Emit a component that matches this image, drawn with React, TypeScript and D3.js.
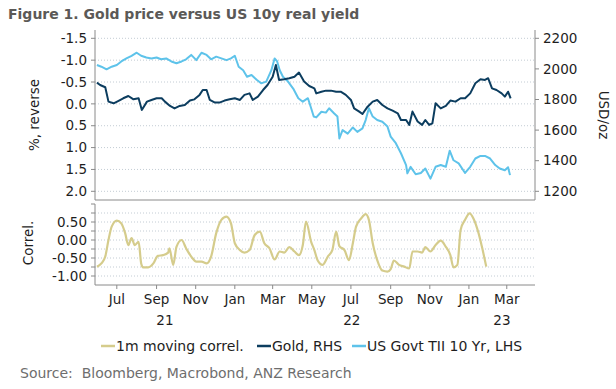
import React from "react";
import * as d3 from "d3";

// US 10y real yield (TII), % — plotted on a reversed left axis
const tiiSeries: [string, number][] = [
  ["2021-05-31", -0.89], ["2021-06-07", -0.85], ["2021-06-15", -0.79], ["2021-06-23", -0.85],
  ["2021-07-01", -0.89], ["2021-07-08", -0.97], ["2021-07-16", -1.04], ["2021-07-24", -1.1],
  ["2021-08-01", -1.17], ["2021-08-08", -1.1], ["2021-08-16", -1.06], ["2021-08-24", -1.04],
  ["2021-09-01", -1.06], ["2021-09-08", -1.02], ["2021-09-16", -1.04], ["2021-09-24", -0.97],
  ["2021-10-02", -0.93], ["2021-10-10", -0.97], ["2021-10-17", -1.02], ["2021-10-25", -1.12],
  ["2021-11-02", -1.0], ["2021-11-10", -1.17], ["2021-11-18", -1.12], ["2021-11-25", -1.02],
  ["2021-12-03", -1.08], ["2021-12-11", -1.04], ["2021-12-19", -1.0], ["2021-12-26", -1.04],
  ["2022-01-01", -1.1], ["2022-01-07", -0.85], ["2022-01-14", -0.77], ["2022-01-20", -0.62],
  ["2022-01-27", -0.66], ["2022-02-04", -0.55], ["2022-02-11", -0.47], ["2022-02-19", -0.51],
  ["2022-02-27", -0.77], ["2022-03-04", -1.04], ["2022-03-08", -0.97], ["2022-03-12", -0.77],
  ["2022-03-17", -0.62], ["2022-03-25", -0.51], ["2022-04-02", -0.35], ["2022-04-10", -0.13],
  ["2022-04-17", -0.05], ["2022-04-25", -0.13], ["2022-04-30", 0.1], ["2022-05-04", 0.29],
  ["2022-05-08", 0.31], ["2022-05-16", 0.18], ["2022-05-23", 0.2], ["2022-05-28", 0.1],
  ["2022-06-05", 0.22], ["2022-06-10", 0.29], ["2022-06-13", 0.79], ["2022-06-18", 0.6],
  ["2022-06-26", 0.68], ["2022-07-04", 0.54], ["2022-07-11", 0.64], ["2022-07-19", 0.56],
  ["2022-07-24", 0.37], ["2022-07-29", 0.1], ["2022-08-04", 0.29], ["2022-08-11", 0.37],
  ["2022-08-19", 0.41], ["2022-08-27", 0.52], ["2022-09-01", 0.75], ["2022-09-09", 0.9],
  ["2022-09-17", 1.13], ["2022-09-25", 1.4], ["2022-09-27", 1.59], ["2022-10-02", 1.44],
  ["2022-10-10", 1.61], ["2022-10-18", 1.58], ["2022-10-25", 1.48], ["2022-11-02", 1.71],
  ["2022-11-10", 1.44], ["2022-11-18", 1.4], ["2022-11-26", 1.44], ["2022-12-02", 1.07],
  ["2022-12-08", 1.29], ["2022-12-16", 1.36], ["2022-12-26", 1.58], ["2023-01-03", 1.44],
  ["2023-01-11", 1.25], ["2023-01-19", 1.19], ["2023-01-26", 1.19], ["2023-02-03", 1.25],
  ["2023-02-11", 1.4], ["2023-02-18", 1.48], ["2023-02-26", 1.52], ["2023-03-03", 1.45],
  ["2023-03-06", 1.63],
];

// Gold, USD/oz — right axis
const goldSeries: [string, number][] = [
  ["2021-05-31", 1910], ["2021-06-05", 1895], ["2021-06-13", 1880], ["2021-06-18", 1786],
  ["2021-06-26", 1775], ["2021-07-03", 1790], ["2021-07-11", 1808], ["2021-07-19", 1823],
  ["2021-07-27", 1801], ["2021-08-04", 1808], ["2021-08-09", 1732], ["2021-08-17", 1786],
  ["2021-08-24", 1797], ["2021-09-01", 1808], ["2021-09-09", 1808], ["2021-09-14", 1786],
  ["2021-09-22", 1758], ["2021-09-29", 1742], ["2021-10-07", 1758], ["2021-10-15", 1764],
  ["2021-10-23", 1793], ["2021-10-30", 1801], ["2021-11-07", 1830], ["2021-11-12", 1862],
  ["2021-11-18", 1862], ["2021-11-23", 1797], ["2021-12-01", 1780], ["2021-12-08", 1780],
  ["2021-12-16", 1793], ["2021-12-24", 1801], ["2022-01-01", 1808], ["2022-01-09", 1797],
  ["2022-01-16", 1830], ["2022-01-24", 1840], ["2022-01-29", 1797], ["2022-02-06", 1819],
  ["2022-02-14", 1862], ["2022-02-21", 1895], ["2022-03-01", 1949], ["2022-03-06", 2026],
  ["2022-03-11", 1928], ["2022-03-19", 1932], ["2022-03-27", 1939], ["2022-04-04", 1949],
  ["2022-04-11", 1976], ["2022-04-19", 1917], ["2022-04-27", 1888], ["2022-05-05", 1873],
  ["2022-05-08", 1840], ["2022-05-16", 1851], ["2022-05-23", 1858], ["2022-05-31", 1858],
  ["2022-06-08", 1851], ["2022-06-15", 1851], ["2022-06-23", 1830], ["2022-07-01", 1797],
  ["2022-07-06", 1742], ["2022-07-14", 1721], ["2022-07-19", 1705], ["2022-07-27", 1753],
  ["2022-08-04", 1786], ["2022-08-11", 1797], ["2022-08-19", 1764], ["2022-08-27", 1742],
  ["2022-09-04", 1727], ["2022-09-12", 1710], ["2022-09-17", 1666], ["2022-09-25", 1666],
  ["2022-09-30", 1634], ["2022-10-05", 1721], ["2022-10-13", 1656], ["2022-10-20", 1634],
  ["2022-10-25", 1666], ["2022-10-31", 1634], ["2022-11-05", 1644], ["2022-11-10", 1775],
  ["2022-11-18", 1742], ["2022-11-26", 1758], ["2022-12-03", 1793], ["2022-12-11", 1786],
  ["2022-12-19", 1808], ["2022-12-26", 1808], ["2023-01-03", 1840], ["2023-01-11", 1906],
  ["2023-01-19", 1932], ["2023-01-26", 1928], ["2023-01-31", 1939], ["2023-02-06", 1873],
  ["2023-02-13", 1862], ["2023-02-21", 1840], ["2023-02-26", 1819], ["2023-03-03", 1851],
  ["2023-03-07", 1808],
];

// 1m moving correlation — lower panel
const correlSeries: [string, number][] = [
  ["2021-05-31", -0.74], ["2021-06-07", -0.65], ["2021-06-13", -0.46], ["2021-06-18", 0.0],
  ["2021-06-23", 0.37], ["2021-07-01", 0.54], ["2021-07-08", 0.46], ["2021-07-14", 0.19],
  ["2021-07-19", -0.14], ["2021-07-24", 0.05], ["2021-07-29", -0.14], ["2021-08-04", -0.05],
  ["2021-08-08", -0.65], ["2021-08-11", -0.76], ["2021-08-19", -0.76], ["2021-08-27", -0.65],
  ["2021-09-03", -0.44], ["2021-09-11", -0.42], ["2021-09-19", -0.35], ["2021-09-21", -0.23],
  ["2021-09-27", -0.69], ["2021-10-02", -0.19], ["2021-10-10", 0.0], ["2021-10-17", -0.23],
  ["2021-10-25", -0.46], ["2021-11-02", -0.6], ["2021-11-10", -0.6], ["2021-11-18", -0.65],
  ["2021-11-25", -0.46], ["2021-12-03", 0.19], ["2021-12-11", 0.56], ["2021-12-19", 0.65],
  ["2021-12-26", 0.46], ["2022-01-01", -0.09], ["2022-01-09", -0.28], ["2022-01-16", -0.35],
  ["2022-01-24", -0.28], ["2022-02-01", 0.14], ["2022-02-09", 0.23], ["2022-02-16", -0.09],
  ["2022-02-24", -0.23], ["2022-03-04", -0.54], ["2022-03-12", -0.32], ["2022-03-19", -0.35],
  ["2022-03-27", -0.2], ["2022-04-04", -0.32], ["2022-04-11", -0.42], ["2022-04-17", -0.14],
  ["2022-04-22", 0.51], ["2022-04-30", -0.05], ["2022-05-05", -0.28], ["2022-05-10", -0.56],
  ["2022-05-18", -0.69], ["2022-05-26", -0.46], ["2022-06-02", -0.28], ["2022-06-08", 0.23],
  ["2022-06-13", -0.17], ["2022-06-21", -0.28], ["2022-06-28", -0.56], ["2022-07-04", -0.09],
  ["2022-07-09", 0.37], ["2022-07-17", 0.6], ["2022-07-24", 0.72], ["2022-07-29", 0.56],
  ["2022-08-04", -0.09], ["2022-08-11", -0.56], ["2022-08-19", -0.85], ["2022-08-27", -0.88],
  ["2022-09-01", -0.81], ["2022-09-06", -0.57], ["2022-09-14", -0.69], ["2022-09-22", -0.74],
  ["2022-09-30", -0.79], ["2022-10-05", -0.32], ["2022-10-13", -0.32], ["2022-10-20", -0.35],
  ["2022-10-25", -0.2], ["2022-11-02", -0.32], ["2022-11-10", -0.14], ["2022-11-18", -0.02],
  ["2022-11-26", -0.19], ["2022-12-03", -0.42], ["2022-12-08", -0.76], ["2022-12-14", -0.69],
  ["2022-12-19", 0.28], ["2022-12-26", 0.56], ["2023-01-02", 0.74], ["2023-01-08", 0.6],
  ["2023-01-16", 0.19], ["2023-01-21", -0.17], ["2023-01-28", -0.74],
];

const leftTicks = [-1.5, -1.0, -0.5, 0.0, 0.5, 1.0, 1.5, 2.0];
const rightTicks = [2200, 2000, 1800, 1600, 1400, 1200];
const correlTicks = [0.5, 0.0, -0.5, -1.0];
const correlGrid = [0.75, 0.5, 0.25, 0, -0.25, -0.5, -0.75, -1.0];
const yearLabels = ["21", "22", "23"];

const legendItems = [
  { label: "1m moving correl.", color: "#d5cc8c", x: 101 },
  { label: "Gold, RHS", color: "#0c3d5f", x: 257 },
  { label: "US Govt TII 10 Yr, LHS", color: "#5ec3ea", x: 352 },
];

const FONT = "'DejaVu Sans', Verdana, sans-serif";
const parse = d3.timeParse("%Y-%m-%d");

export default function App() {
  const W = 616, H = 389;
  const x0 = 95, x1 = 535;
  const topY0 = 30, topY1 = 200;
  const botY0 = 204, botY1 = 285;

  const x = d3.scaleTime()
    .domain([new Date(2021, 4, 28), new Date(2023, 3, 14)])
    .range([x0, x1]);

  const yLeft = d3.scaleLinear().domain([-1.5, 2.0]).range([38.3, 191.3]);
  const yRight = d3.scaleLinear().domain([2200, 1200]).range([38.3, 191.3]);
  const yCor = d3.scaleLinear().domain([1.0, -1.25]).range([botY0, botY1]);

  const lineTii = d3.line<[string, number]>()
    .x(d => x(parse(d[0])!))
    .y(d => yLeft(d[1]));
  const lineGold = d3.line<[string, number]>()
    .x(d => x(parse(d[0])!))
    .y(d => yRight(d[1]));
  const lineCor = d3.line<[string, number]>()
    .x(d => x(parse(d[0])!))
    .y(d => yCor(d[1]))
    .curve(d3.curveMonotoneX);

  const monthTicks = x.ticks(d3.timeMonth.every(2)!);
  const fmtMonth = d3.timeFormat("%b");

  // year label sits in the middle of the visible part of each year
  const [dStart, dEnd] = x.domain();
  const yearPos = yearLabels.map(lbl => {
    const yr = 2000 + (+lbl);
    const a = Math.max(+dStart, +new Date(yr, 0, 1));
    const b = Math.min(+dEnd, +new Date(yr + 1, 0, 1));
    return { lbl, x: (x(new Date(a)) + x(new Date(b))) / 2 };
  });

  const axisColor = "#8a8a8a";
  const gridColor = "#c3ccd4";

  return (
    <svg width={W} height={H} style={{ position: "absolute", left: 0, top: 0, background: "#fff" }}
      fontFamily={FONT}>
      <text x={8} y={19} fontSize={14} fontWeight="bold" fill="#5b5957">
        Figure 1. Gold price versus US 10y real yield
      </text>

      {/* top panel grid */}
      {leftTicks.map(t => (
        <line key={"g" + t} x1={x0} x2={x1} y1={yLeft(t)} y2={yLeft(t)}
          stroke={gridColor} strokeDasharray="1,2" />
      ))}
      {/* lower panel grid */}
      {correlGrid.map(t => (
        <line key={"cg" + t} x1={x0} x2={x1} y1={yCor(t)} y2={yCor(t)}
          stroke={gridColor} strokeDasharray="1,2" />
      ))}

      {/* top panel frame */}
      <line x1={x0} x2={x0} y1={topY0} y2={topY1} stroke={axisColor} />
      <line x1={x1} x2={x1} y1={topY0} y2={topY1} stroke={axisColor} />
      <line x1={x0} x2={x1} y1={topY1} y2={topY1} stroke={axisColor} />

      {leftTicks.map(t => (
        <g key={"l" + t}>
          <line x1={x0 - 4} x2={x0} y1={yLeft(t)} y2={yLeft(t)} stroke={axisColor} />
          <text x={x0 - 8} y={yLeft(t)} dy="0.35em" textAnchor="end" fontSize={13.5} fill="#1e1e1e">
            {d3.format(".1f")(t).replace("−", "-")}
          </text>
        </g>
      ))}
      {rightTicks.map(t => (
        <g key={"r" + t}>
          <line x1={x1} x2={x1 + 4} y1={yRight(t)} y2={yRight(t)} stroke={axisColor} />
          <text x={x1 + 8} y={yRight(t)} dy="0.35em" fontSize={13.5} fill="#1e1e1e">{t}</text>
        </g>
      ))}

      <text transform="translate(39,115) rotate(-90)" textAnchor="middle" fontSize={13.5} fill="#1e1e1e">
        %, reverse
      </text>
      <text transform="translate(599,115) rotate(90)" textAnchor="middle" fontSize={13.5} fill="#1e1e1e">
        USD/oz
      </text>

      {/* lower panel axes */}
      <line x1={x0} x2={x0} y1={botY0} y2={botY1} stroke={axisColor} />
      <line x1={x0} x2={x1} y1={botY1} y2={botY1} stroke={axisColor} />
      {[1.0, ...correlGrid].map(t => (
        <line key={"ct" + t} x1={x0 - 4} x2={x0} y1={yCor(t)} y2={yCor(t)} stroke={axisColor} />
      ))}
      {correlTicks.map(t => (
        <text key={"cl" + t} x={x0 - 8} y={yCor(t)} dy="0.35em" textAnchor="end" fontSize={13.5} fill="#1e1e1e">
          {d3.format(".2f")(t).replace("−", "-")}
        </text>
      ))}
      <text transform="translate(33,243) rotate(-90)" textAnchor="middle" fontSize={13.5} fill="#1e1e1e">
        Correl.
      </text>

      {monthTicks.map(d => (
        <g key={+d}>
          <line x1={x(d)} x2={x(d)} y1={botY1} y2={botY1 + 4} stroke={axisColor} />
          <text x={x(d)} y={304} textAnchor="middle" fontSize={13.5} fill="#1e1e1e">{fmtMonth(d)}</text>
        </g>
      ))}
      {yearPos.map(p => (
        <text key={p.lbl} x={p.x} y={325} textAnchor="middle" fontSize={13.5} fill="#1e1e1e">{p.lbl}</text>
      ))}

      {/* series */}
      <path d={lineTii(tiiSeries)!} fill="none" stroke="#5ec3ea" strokeWidth={2} strokeLinejoin="round" />
      <path d={lineGold(goldSeries)!} fill="none" stroke="#0c3d5f" strokeWidth={2} strokeLinejoin="round" />
      <path d={lineCor(correlSeries)!} fill="none" stroke="#d5cc8c" strokeWidth={2.2} />

      {/* legend */}
      {legendItems.map(it => (
        <g key={it.label}>
          <line x1={it.x} x2={it.x + 14} y1={346} y2={346} stroke={it.color} strokeWidth={2.5} />
          <text x={it.x + 15} y={346} dy="0.35em" fontSize={14} fill="#1e1e1e">{it.label}</text>
        </g>
      ))}

      <text x={20} y={373} dy="0.35em" fontSize={14} fill="#6e6e6e">
        Source:{"\u00a0\u00a0"}Bloomberg, Macrobond, ANZ Research
      </text>
    </svg>
  );
}
